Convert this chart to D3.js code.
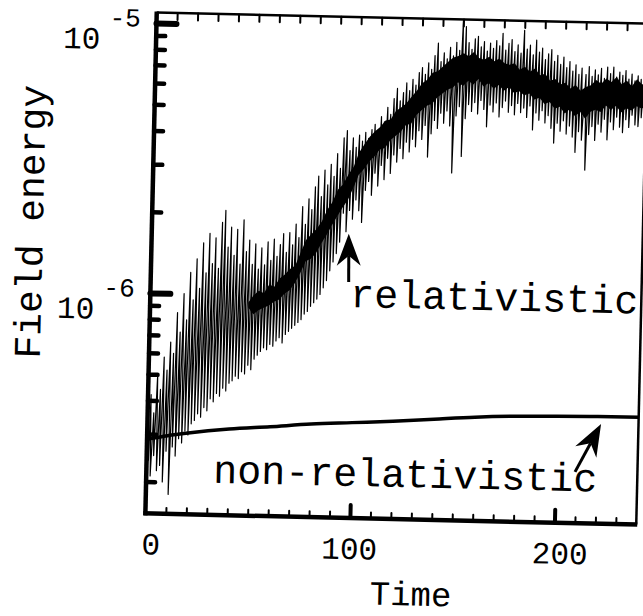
<!DOCTYPE html>
<html><head><meta charset="utf-8">
<script src="https://cdn.jsdelivr.net/npm/d3@7"></script>
<style>body{margin:0;background:#fff}svg{display:block}</style>
</head><body>
<svg id="chart" width="643" height="616"></svg>
<script>
// ---------- data (energy values in units of 1e-6) ----------
const UNIT = 1e-6;
const xMajorTicks = [0, 100, 200];
const xTickLabels = ["0", "100", "200"];
const yMajorTicks = [1e-5, 1e-6];
const yTickBase = ["10", "10"];
const yTickExp = ["-5", "-6"];

const spikeTime = [0.5,1.5,3,4.5,6,7.5,9,10.5,12,13.5,15,16.5,18,19.5,21,22.5,24,25.5,27,28.5,30,31.5,33,34.5,36,37.5,39,40.5,42,43.5,45,46.5,48,49.5,51,52.5,54,55.5,57,58.5,60,61.5,63,64.5,66,67.5,69,70.5,72,73.5,75,76.5,78,79.5,81,82.5,84,85.5,87,88.5,90,91.5,93,94.5,96,97.5,99,100.5,102,103.5,105,106.5,108,109.5,111,112.5,114,115.5,117,118.5,120,121.5,123,124.5,126,127.5,129,130.5,132,133.5,135,136.5,138,139.5,141,142.5,144,145.5,147,148.5,150,151.5,153,154.5,156,157.5,159,160.5,162,163.5,165,166.5,168,169.5,171,172.5,174,175.5,177,178.5,180,181.5,183,184.5,186,187.5,189,190.5,192,193.5,195,196.5,198,199.5,201,202.5,204,205.5,207,208.5,210.5,212,213.5,215,216.5,218,219.5,221,222.5,224,225.5,227,228.5,230,231.5,233,234.5,236,237.5,239];
const spikeHigh = [0.30,0.42,0.36,0.50,0.44,0.58,0.52,0.66,0.60,0.85,0.72,1.00,0.80,1.20,0.95,1.35,1.05,1.55,1.20,1.68,1.30,1.62,1.25,1.85,2.05,1.50,1.78,1.40,1.75,1.30,1.90,1.45,1.60,1.30,1.55,1.25,1.50,1.30,1.58,1.35,1.62,1.40,1.55,1.70,1.45,1.72,1.55,1.85,1.65,2.15,1.85,2.30,2.10,2.55,2.80,2.35,2.95,2.60,3.10,2.80,3.40,3.00,3.90,4.15,3.50,3.90,3.60,4.00,3.80,4.10,3.90,4.20,4.40,4.10,4.70,4.50,5.10,4.80,5.50,6.00,5.40,5.80,6.30,5.90,6.50,6.20,6.90,7.20,6.80,7.50,7.10,8.00,8.90,7.60,8.20,7.80,8.60,8.00,9.00,8.40,10.9,10.3,9.00,8.50,9.30,9.50,8.70,9.10,8.40,9.00,8.60,9.20,8.80,9.80,8.50,9.00,9.30,8.40,8.90,8.30,10.1,8.60,8.90,8.20,9.30,8.40,8.70,7.90,8.30,8.60,7.80,8.20,7.60,8.10,7.40,7.80,7.20,7.60,7.00,7.40,7.00,7.50,6.90,7.30,7.00,7.40,6.80,7.50,7.10,7.50,6.90,7.20,7.00,7.30,6.80,7.10,6.70,7.00,6.80,7.00];
const spikeLow = [0.24,0.21,0.25,0.22,0.23,0.20,0.26,0.18,0.27,0.25,0.29,0.28,0.31,0.30,0.33,0.34,0.36,0.35,0.38,0.37,0.41,0.40,0.43,0.42,0.45,0.44,0.47,0.48,0.50,0.49,0.52,0.51,0.55,0.53,0.58,0.60,0.62,0.64,0.63,0.66,0.65,0.68,0.70,0.67,0.72,0.74,0.76,0.78,0.80,0.82,0.86,0.88,0.92,0.95,0.98,1.02,1.08,1.15,1.25,1.35,1.45,1.60,2.05,1.75,2.10,1.95,2.30,2.10,1.90,2.50,2.70,2.40,2.90,2.60,3.10,2.75,3.30,2.90,3.40,3.20,3.60,3.30,3.80,3.50,3.90,3.66,4.20,3.90,4.40,3.36,4.10,4.60,4.30,4.90,4.50,5.00,4.40,2.95,4.80,5.20,3.40,4.70,5.30,5.00,5.40,4.90,5.50,5.10,4.40,5.30,5.00,5.40,4.80,5.20,5.50,5.00,5.30,4.90,5.40,5.00,5.20,4.80,5.30,4.32,5.00,4.70,5.10,4.60,4.90,4.40,3.88,4.60,4.30,4.70,4.20,4.50,4.10,3.60,4.30,4.00,3.10,4.20,4.50,4.00,4.60,4.30,4.80,4.03,4.70,4.40,4.90,4.50,4.30,4.80,4.50,5.00,4.60,4.54,4.90,4.70];

// dense core of the relativistic trace (rough edges)
const bandTime = [48,50.5,53,55.5,58,60.5,63,65.5,68,70.5,73,75.5,78,80.5,83,85.5,88,90.5,93,95.5,98,100.5,103,105.5,108,110.5,113,115.5,118,120.5,123,125.5,128,130.5,133,135.5,138,140.5,143,145.5,148,150.5,153,155.5,158,160.5,163,165.5,168,170.5,173,175.5,178,180.5,183,185.5,188,190.5,193,195.5,198,200.5,203,205.5,208,210.5,213,215.5,218,220.5,223,225.5,228,230.5,233,235.5,238,240.5];
const bandLow  = [0.90,0.85,0.88,0.90,0.92,0.95,0.97,1.02,1.05,1.12,1.22,1.35,1.38,1.45,1.58,1.70,1.85,2.00,2.15,2.30,2.55,2.85,3.00,3.20,3.35,3.55,3.60,3.85,4.00,4.15,4.40,4.45,4.80,5.00,5.20,5.30,5.60,5.80,6.00,6.10,6.40,6.20,6.50,6.30,6.60,6.20,6.40,6.10,6.30,6.00,6.20,5.90,6.00,5.80,5.90,5.60,5.70,5.40,5.50,5.20,5.30,5.00,5.20,4.90,5.10,4.80,5.10,5.20,5.10,5.40,5.20,5.40,5.10,5.30,5.20,5.40,5.30,5.40];
const bandHigh = [0.94,1.00,1.04,1.02,1.10,1.08,1.16,1.20,1.26,1.30,1.45,1.62,1.70,1.78,1.90,2.10,2.25,2.50,2.62,2.85,3.05,3.45,3.70,3.95,4.15,4.30,4.55,4.60,4.95,5.10,5.30,5.60,5.90,6.30,6.50,6.90,7.00,7.30,7.60,7.90,8.00,8.20,8.00,8.30,7.90,7.80,8.00,7.70,7.90,7.60,7.50,7.60,7.20,7.40,7.10,7.30,6.90,7.00,6.60,6.70,6.40,6.50,6.20,6.40,6.10,6.30,6.40,6.70,6.50,6.80,6.60,6.90,6.50,6.70,6.40,6.80,6.50,6.70];

const nonRelTime  = [0,10,20,40,60,80,100,120,140,160,180,200,220,240];
const nonRelValue = [0.287,0.297,0.305,0.318,0.327,0.337,0.344,0.351,0.360,0.369,0.375,0.378,0.380,0.381];

// annotation anchors (data units)
const relLabel = {t: 97.7, v: 0.922, text: "relativistic"};
const relArrow = {tipT: 96.3, tipV: 1.72, tailT: 96.8, tailV: 1.14};
const nonRelLabel = {t: 32.7, v: 0.2005, text: "non-relativistic"};
const nonRelArrow = {tipT: 221.7, tipV: 0.357, tailT: 209.5, tailV: 0.236};

// ---------- layout ----------
const W = 643, H = 616;
const L = 151, R = 642, T = 18, B = 519;
const FONT = "'Liberation Mono', 'DejaVu Sans Mono', monospace";

const x = d3.scaleLinear().domain([0, 240]).range([L, R]);
const y = d3.scaleLog().domain([1.524e-7, 1.094e-5]).range([B, T]);

const svg = d3.select("#chart");
svg.append("rect").attr("width", W).attr("height", H).attr("fill", "#fff");
const root = svg.append("g").attr("transform", "rotate(1.3 395 268)");

root.append("clipPath").attr("id", "clip")
  .append("rect").attr("x", L).attr("y", T).attr("width", R - L).attr("height", B - T);
const plot = root.append("g").attr("clip-path", "url(#clip)");

// dense core
const band = d3.area()
  .x((d, i) => x(bandTime[i]))
  .y0((d, i) => y(bandLow[i] * UNIT))
  .y1((d, i) => y(bandHigh[i] * UNIT));
plot.append("path").datum(bandTime).attr("d", band).attr("fill", "#000");

// spikes of the relativistic trace (zig-zag through highs and lows)
const zig = [];
spikeTime.forEach((t, i) => {
  zig.push([t, spikeHigh[i]]);
  zig.push([t + 0.4, spikeLow[i]]);
});
plot.append("path").datum(zig)
  .attr("d", d3.line().x(d => x(d[0])).y(d => y(d[1] * UNIT)))
  .attr("fill", "none").attr("stroke", "#000").attr("stroke-width", 1.2)
  .attr("stroke-linejoin", "round");

// non-relativistic curve
plot.append("path").datum(nonRelTime.map((t, i) => [t, nonRelValue[i]]))
  .attr("d", d3.line().curve(d3.curveMonotoneX).x(d => x(d[0])).y(d => y(d[1] * UNIT)))
  .attr("fill", "none").attr("stroke", "#000").attr("stroke-width", 3.5);

// ---------- axes ----------
function styleAxis(g, w) {
  g.select(".domain").remove();
  g.selectAll(".tick line").attr("stroke", "#000").attr("stroke-width", w).attr("stroke-linecap", "round");
}
const xMinor = d3.range(10, 240, 10).filter(v => !xMajorTicks.includes(v));
root.append("g").attr("transform", `translate(0,${B})`)
  .call(d3.axisBottom(x).tickValues(xMinor).tickSize(-6).tickFormat(""))
  .call(g => styleAxis(g, 2));
root.append("g").attr("transform", `translate(0,${B})`)
  .call(d3.axisBottom(x).tickValues(xMajorTicks.filter(v => v > 0)).tickSize(-13).tickFormat(""))
  .call(g => styleAxis(g, 4));
root.append("g").attr("transform", `translate(0,${T})`)
  .call(d3.axisTop(x).tickValues(d3.range(10, 240, 10)).tickSize(-7).tickFormat(""))
  .call(g => styleAxis(g, 2));

const yMinor = [];
[1e-7, 1e-6].forEach(dec => { for (let k = 2; k <= 9; k++) { const v = k * dec; if (v >= y.domain()[0] && v <= y.domain()[1]) yMinor.push(v); } });
root.append("g").attr("transform", `translate(${L},0)`)
  .call(d3.axisLeft(y).tickValues(yMinor).tickSize(-9).tickFormat(""))
  .call(g => styleAxis(g, 4.5));
root.append("g").attr("transform", `translate(${L},0)`)
  .call(d3.axisLeft(y).tickValues(yMajorTicks).tickSize(-20).tickFormat(""))
  .call(g => styleAxis(g, 6));

// frame
root.append("line").attr("x1", L).attr("x2", L).attr("y1", T - 1).attr("y2", B + 2).attr("stroke", "#000").attr("stroke-width", 4.5);
root.append("line").attr("x1", L - 2).attr("x2", R + 1).attr("y1", B).attr("y2", B).attr("stroke", "#000").attr("stroke-width", 4.5);
root.append("line").attr("x1", L).attr("x2", R + 1).attr("y1", T).attr("y2", T).attr("stroke", "#000").attr("stroke-width", 2.5);
root.append("line").attr("x1", R).attr("x2", R).attr("y1", T).attr("y2", B).attr("stroke", "#000").attr("stroke-width", 2.5);

// x tick labels
root.append("g").selectAll("text").data(xMajorTicks).join("text")
  .attr("x", d => x(d) + (d === 0 ? 6 : d === 200 ? 6 : 0)).attr("y", 560)
  .attr("text-anchor", "middle").attr("font-family", FONT).attr("font-size", 31)
  .text((d, i) => xTickLabels[i]);

// y tick labels
const yl = root.append("g").selectAll("text").data(yMajorTicks).join("text")
  .attr("font-family", FONT).attr("font-size", 31);
yl.append("tspan").attr("x", 58).attr("y", d => y(d) + 27).text((d, i) => yTickBase[i]);
yl.append("tspan").attr("x", 104).attr("y", d => y(d) + 4).attr("font-size", 26).text((d, i) => yTickExp[i]);

// axis titles
root.append("text").attr("x", 418).attr("y", 605).attr("text-anchor", "middle")
  .attr("font-family", FONT).attr("font-size", 34).text("Time");
root.append("text").attr("transform", "translate(42,230) rotate(-90)").attr("text-anchor", "middle")
  .attr("font-family", FONT).attr("font-size", 38).text("Field energy");

// annotations
function arrow(a) {
  const x1 = x(a.tailT), y1 = y(a.tailV * UNIT), x2 = x(a.tipT), y2 = y(a.tipV * UNIT);
  const dx = x2 - x1, dy = y2 - y1, len = Math.hypot(dx, dy);
  const ux = dx / len, uy = dy / len, px = -uy, py = ux;
  const hl = 32, hw = 12, notch = 22;
  root.append("line").attr("x1", x1).attr("y1", y1)
    .attr("x2", x2 - ux * notch).attr("y2", y2 - uy * notch)
    .attr("stroke", "#000").attr("stroke-width", 3);
  const pts = [[x2, y2],
    [x2 - ux * hl + px * hw, y2 - uy * hl + py * hw],
    [x2 - ux * notch, y2 - uy * notch],
    [x2 - ux * hl - px * hw, y2 - uy * hl - py * hw]];
  root.append("path").attr("d", "M" + pts.map(p => p.join(",")).join("L") + "Z").attr("fill", "#000");
}
arrow(relArrow);
arrow(nonRelArrow);

root.append("text").attr("x", x(relLabel.t)).attr("y", y(relLabel.v * UNIT))
  .attr("font-family", FONT).attr("font-size", 40).text(relLabel.text);
root.append("text").attr("x", x(nonRelLabel.t)).attr("y", y(nonRelLabel.v * UNIT))
  .attr("font-family", FONT).attr("font-size", 40).text(nonRelLabel.text);
</script>
</body></html>
